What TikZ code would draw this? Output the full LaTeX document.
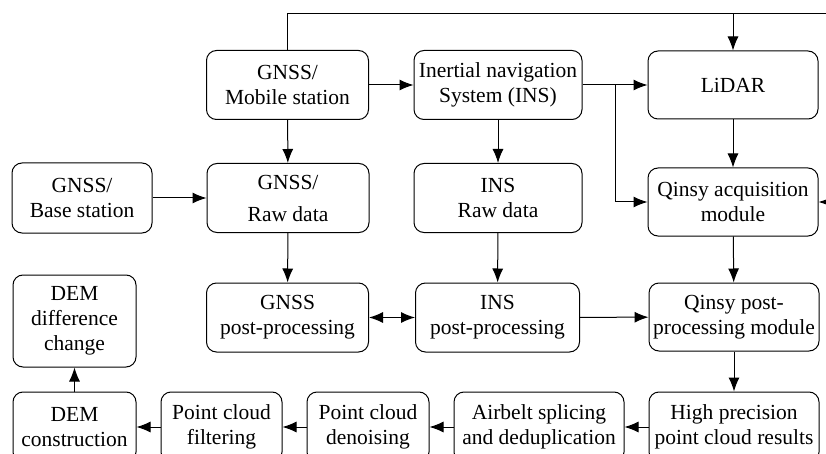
\documentclass[tikz,border=0pt]{standalone}
\usepackage{fontspec}
\setmainfont{Liberation Serif}
\usetikzlibrary{arrows.meta}
\tikzset{
	blk/.style={draw,rounded corners=10pt,align=center,inner sep=2pt,line width=1pt,
		font=\fontsize{21.5}{25}\selectfont},
	wide/.style={minimum width=170pt,minimum height=68pt},
	mid/.style={minimum width=162pt,minimum height=69pt},
	narrow/.style={minimum width=122pt,minimum height=70pt},
	arr/.style={-{Latex[length=14pt,width=11pt]},line width=1pt},
	dbl/.style={{Latex[length=14pt,width=11pt]}-{Latex[length=14pt,width=11pt]},line width=1pt}
}
\begin{document}
\begin{tikzpicture}[x=1pt,y=-1pt]
	\useasboundingbox (0,0) rectangle (826,454);
	% sensors
	\node[blk,mid] at (287.5,85)(mob){GNSS/\\Mobile station};
	\node[blk,mid,minimum width=168pt] at (498,85)(ins){Inertial navigation\\System (INS)};
	\node[blk,wide] at (733,85)(lidar){LiDAR};
	% raw data
	\node[blk,minimum width=140pt,minimum height=70pt] at (82,198)(base){GNSS/\\Base station};
	\node[blk,mid] at (288,198)(graw){GNSS/\\[7pt]Raw data};
	\node[blk,mid,minimum width=168pt] at (498,198)(iraw){INS\\Raw data};
	\node[blk,wide] at (733,202)(qacq){Qinsy acquisition\\module};
	% post-processing
	\node[blk,mid] at (287.5,317.5)(gpost){GNSS\\post-processing};
	\node[blk,mid,minimum width=164pt] at (497.5,317.5)(ipost){INS\\post-processing};
	\node[blk,wide] at (734,317)(qpost){Qinsy post-\\processing module};
	% point cloud and DEM
	\node[blk,minimum width=123pt,minimum height=92pt] at (74.5,321)(demdiff){DEM\\difference\\change};
	\node[blk,narrow,minimum width=123pt] at (74.5,427)(demcon){DEM\\construction};
	\node[blk,narrow,minimum width=121pt] at (221.5,427)(filt){Point cloud\\filtering};
	\node[blk,narrow] at (368,427)(deno){Point cloud\\denoising};
	\node[blk,wide,minimum height=70pt] at (539,427)(airb){Airbelt splicing\\and deduplication};
	\node[blk,wide,minimum height=70pt] at (734,427)(high){High precision\\point cloud results};

	\coordinate (br) at (615,85);
	\coordinate (topl) at (287.5,14);
	\coordinate (topr) at (842,14);

	\path[arr] (mob)edge(ins)(ins)edge(lidar)(mob)edge(graw)(ins)edge(iraw)
		(base)edge(graw)(graw)edge(gpost)(iraw)edge(ipost)
		(lidar)edge(qacq)(qacq)edge(qpost)(ipost)edge(qpost)(qpost)edge(high);
	\path[arr] (high)edge(airb)(airb)edge(deno)(deno)edge(filt)(filt)edge(demcon)(demcon)edge(demdiff);
	\path[dbl] (gpost)edge(ipost);
	\draw[arr] (br) |- (qacq.west);
	\draw[arr] (mob.north) -- (topl) -- (topr) |- (qacq.east);
	\draw[arr] (lidar.north |- topl) -- (lidar.north);
\end{tikzpicture}
\end{document}
